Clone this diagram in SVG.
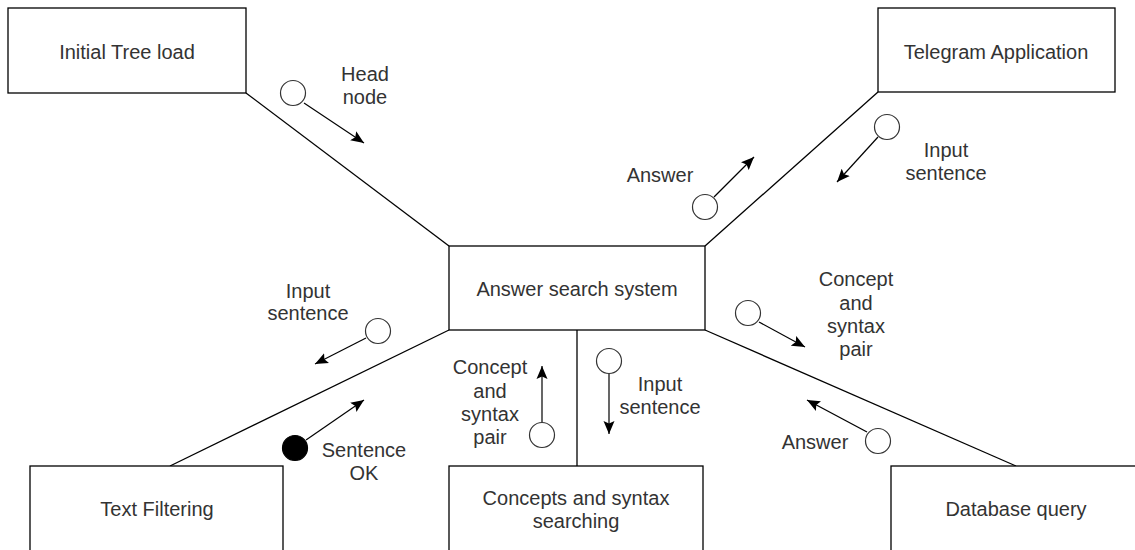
<svg xmlns="http://www.w3.org/2000/svg" width="1135" height="550" viewBox="0 0 1135 550">
  <style>
    .box { fill: #ffffff; stroke: #000000; stroke-width: 1.3; }
    .link { fill: none; stroke: #000000; stroke-width: 1.3; }
    .flow { fill: none; stroke: #000000; stroke-width: 1.2; marker-end: url(#head); }
    .token { fill: #ffffff; stroke: #333333; stroke-width: 1.2; }
    .token-on { fill: #000000; stroke: #000000; stroke-width: 1.2; }
    text { font-family: "Liberation Sans", Arial, Helvetica, sans-serif; font-size: 20px; fill: #333333; text-anchor: middle; }
  </style>
  <defs>
    <marker id="head" markerUnits="userSpaceOnUse" markerWidth="14" markerHeight="12" refX="13" refY="5.5" orient="auto" viewBox="0 0 14 11">
      <path d="M0,0 L13,5.5 L0,11 L2.5,5.5 Z" fill="#000000"/>
    </marker>
  </defs>
  <rect width="1135" height="550" fill="#ffffff"/>

  <!-- links between the central system and the modules -->
  <g id="connectors">
    <line class="link" x1="246" y1="93" x2="449" y2="246"/>
    <line class="link" x1="878" y1="92" x2="705" y2="246"/>
    <line class="link" x1="449" y1="330" x2="170" y2="466"/>
    <line class="link" x1="705" y1="330" x2="1016" y2="466"/>
    <line class="link" x1="577" y1="330" x2="577" y2="466"/>
  </g>

  <!-- message flows along the links -->
  <g id="messages">
    <g id="msg-head-node">
      <circle class="token" cx="293" cy="93" r="12.5"/>
      <line class="flow" x1="304" y1="103" x2="364" y2="143"/>
      <text x="365" y="81">Head</text>
      <text x="365" y="104">node</text>
    </g>
    <g id="msg-telegram-answer">
      <circle class="token" cx="705" cy="207" r="12.5"/>
      <line class="flow" x1="714" y1="197" x2="754" y2="157"/>
      <text x="660" y="182">Answer</text>
    </g>
    <g id="msg-telegram-input">
      <circle class="token" cx="887" cy="127" r="12.5"/>
      <line class="flow" x1="878" y1="137" x2="837" y2="182"/>
      <text x="946" y="157">Input</text>
      <text x="946" y="180">sentence</text>
    </g>
    <g id="msg-filter-input">
      <circle class="token" cx="378" cy="331" r="12.5"/>
      <line class="flow" x1="366" y1="338" x2="315" y2="364"/>
      <text x="308" y="298">Input</text>
      <text x="308" y="320">sentence</text>
    </g>
    <g id="msg-filter-ok">
      <circle class="token-on" cx="295" cy="448" r="12.5"/>
      <line class="flow" x1="306" y1="440" x2="364" y2="400"/>
      <text x="364" y="457">Sentence</text>
      <text x="364" y="480">OK</text>
    </g>
    <g id="msg-search-pair">
      <circle class="token" cx="542" cy="435" r="12.5"/>
      <line class="flow" x1="542" y1="422" x2="542" y2="366"/>
      <text x="490" y="374">Concept</text>
      <text x="490" y="398">and</text>
      <text x="490" y="421">syntax</text>
      <text x="490" y="444">pair</text>
    </g>
    <g id="msg-search-input">
      <circle class="token" cx="609" cy="361" r="12.5"/>
      <line class="flow" x1="609" y1="374" x2="609" y2="434"/>
      <text x="660" y="391">Input</text>
      <text x="660" y="414">sentence</text>
    </g>
    <g id="msg-db-pair">
      <circle class="token" cx="748" cy="313" r="12.5"/>
      <line class="flow" x1="759" y1="322" x2="805" y2="347"/>
      <text x="856" y="286">Concept</text>
      <text x="856" y="310">and</text>
      <text x="856" y="333">syntax</text>
      <text x="856" y="356">pair</text>
    </g>
    <g id="msg-db-answer">
      <circle class="token" cx="878" cy="441" r="12.5"/>
      <line class="flow" x1="867" y1="432" x2="807" y2="400"/>
      <text x="815" y="449">Answer</text>
    </g>
  </g>

  <!-- modules -->
  <g id="node-initial-tree-load">
    <rect class="box" x="8" y="8" width="238" height="85"/>
    <text x="127" y="59">Initial Tree load</text>
  </g>
  <g id="node-telegram-application">
    <rect class="box" x="878" y="8" width="237" height="84"/>
    <text x="996" y="59">Telegram Application</text>
  </g>
  <g id="node-answer-search-system">
    <rect class="box" x="449" y="246" width="256" height="84"/>
    <text x="577" y="296">Answer search system</text>
  </g>
  <g id="node-text-filtering">
    <rect class="box" x="30" y="466" width="253" height="86"/>
    <text x="157" y="516">Text Filtering</text>
  </g>
  <g id="node-concepts-syntax-searching">
    <rect class="box" x="449" y="466" width="254" height="86"/>
    <text x="576" y="505">Concepts and syntax</text>
    <text x="576" y="528">searching</text>
  </g>
  <g id="node-database-query">
    <rect class="box" x="891" y="466" width="254" height="86"/>
    <text x="1016" y="516">Database query</text>
  </g>
</svg>
